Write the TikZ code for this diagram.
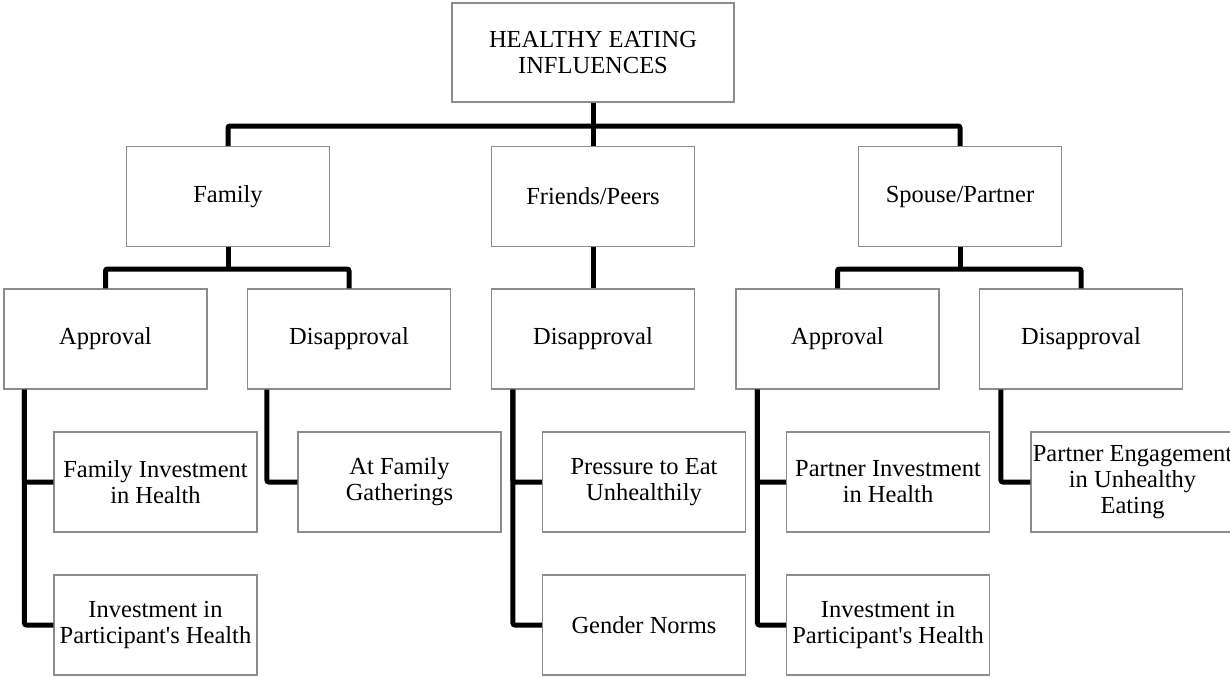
\documentclass[tikz,border=0pt]{standalone}
\usepackage{fontspec}
\setmainfont{Liberation Serif}
\begin{document}
\begin{tikzpicture}[x=1pt,y=-1pt,
  box/.style={draw=black!45, line width=1.1pt, fill=white, rectangle,
    minimum width=203pt, minimum height=100pt, align=center, inner sep=0pt,
    font=\fontsize{24.5}{26}\selectfont},
  conn/.style={line width=5pt, black, rounded corners=2pt}]
\useasboundingbox (0,0) rectangle (1230,677);
\clip (0,0) rectangle (1230,677);

% root
\node[box, minimum width=282pt, minimum height=99pt] (root) at (593,52.5) {HEALTHY EATING\\INFLUENCES};

% first level
\node[box] (fam) at (228,196.5) {Family};
\node[box] (fr)  at (593,196.5) {Friends/Peers};
\node[box] (sp)  at (960,196.5) {Spouse/Partner};

% second level
\node[box] (fa) at (105.5,339) {Approval};
\node[box] (fd) at (349,339) {Disapproval};
\node[box] (rd) at (593,339) {Disapproval};
\node[box] (sa) at (837.5,339) {Approval};
\node[box] (sd) at (1081,339) {Disapproval};

% third level
\node[box] (fa1) at (155.5,482) {Family Investment\\in Health};
\node[box] (fa2) at (155.5,625) {Investment in\\Participant\textquotesingle s Health};
\node[box] (fd1) at (399.5,482) {At Family\\Gatherings};
\node[box] (rd1) at (644,482) {Pressure to Eat\\Unhealthily};
\node[box] (rd2) at (644,625) {Gender Norms};
\node[box] (sa1) at (888,482) {Partner Investment\\in Health};
\node[box] (sa2) at (888,625) {Investment in\\Participant\textquotesingle s Health};
\node[box] (sd1) at (1132.5,482) {Partner Engagement\\in Unhealthy\\Eating};

% bars
\coordinate (barA) at (593,126);
\coordinate (barF) at (228,269);
\coordinate (barS) at (960,269);

% top level connectors
\draw[conn] (root.south) -- (fr.north);
\draw[conn] (fam.north) -- (fam.north |- barA) -- (sp.north |- barA) -- (sp.north);

% family split
\draw[conn] (fam.south) -- (barF);
\draw[conn] (fa.north) -- (fa.north |- barF) -- (fd.north |- barF) -- (fd.north);

% friends
\draw[conn] (fr.south) -- (rd.north);

% spouse split
\draw[conn] (sp.south) -- (barS);
\draw[conn] (sa.north) -- (sa.north |- barS) -- (sd.north |- barS) -- (sd.north);

% elbow connectors to the detail boxes
\draw[conn] (fa.south west) ++(21,0) |- (fa1.west);
\draw[conn] (fa.south west) ++(21,0) |- (fa2.west);
\draw[conn] (fd.south west) ++(20,0) |- (fd1.west);
\draw[conn] (rd.south west) ++(22,0) |- (rd1.west);
\draw[conn] (rd.south west) ++(22,0) |- (rd2.west);
\draw[conn] (sa.south west) ++(22,0) |- (sa1.west);
\draw[conn] (sa.south west) ++(22,0) |- (sa2.west);
\draw[conn] (sd.south west) ++(22,0) |- (sd1.west);
\end{tikzpicture}
\end{document}
